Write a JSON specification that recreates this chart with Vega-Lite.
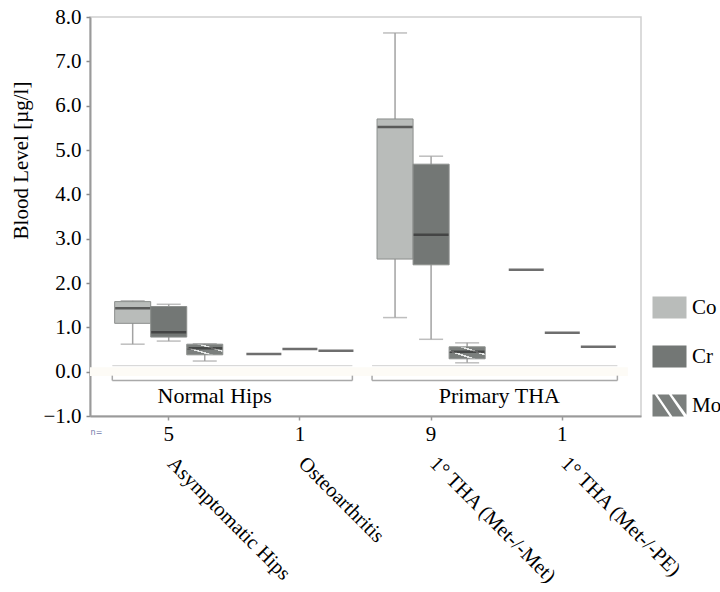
{
  "$schema": "https://vega.github.io/schema/vega-lite/v6.json",
  "width": 551,
  "height": 399,
  "autosize": {"type": "none"},
  "padding": {"left": 90, "top": 17, "right": 79, "bottom": 176},
  "background": "white",
  "config": {
    "font": "Liberation Serif",
    "view": {"stroke": "#cfcfcf", "strokeWidth": 1.5},
    "axis": {"labelFont": "Liberation Serif", "titleFont": "Liberation Serif", "labelColor": "#000000", "titleColor": "#000000", "grid": false},
    "legend": {"labelFont": "Liberation Serif"}
  },
  "datasets": {
    "stats": [
      {"cat": "Asymptomatic Hips", "metal": "Co", "lower": 0.62, "q1": 1.09, "median": 1.43, "q3": 1.58, "upper": 1.6},
      {"cat": "Asymptomatic Hips", "metal": "Cr", "lower": 0.69, "q1": 0.78, "median": 0.89, "q3": 1.47, "upper": 1.52},
      {"cat": "Asymptomatic Hips", "metal": "Mo", "lower": 0.24, "q1": 0.38, "median": 0.53, "q3": 0.62, "upper": 0.63},
      {"cat": "Osteoarthritis", "metal": "Co", "median": 0.4},
      {"cat": "Osteoarthritis", "metal": "Cr", "median": 0.51},
      {"cat": "Osteoarthritis", "metal": "Mo", "median": 0.47},
      {"cat": "1° THA (Met-/-Met)", "metal": "Co", "lower": 1.22, "q1": 2.54, "median": 5.52, "q3": 5.7, "upper": 7.64},
      {"cat": "1° THA (Met-/-Met)", "metal": "Cr", "lower": 0.73, "q1": 2.41, "median": 3.09, "q3": 4.68, "upper": 4.86},
      {"cat": "1° THA (Met-/-Met)", "metal": "Mo", "lower": 0.2, "q1": 0.29, "median": 0.45, "q3": 0.56, "upper": 0.65},
      {"cat": "1° THA (Met-/-PE)", "metal": "Co", "median": 2.3},
      {"cat": "1° THA (Met-/-PE)", "metal": "Cr", "median": 0.88},
      {"cat": "1° THA (Met-/-PE)", "metal": "Mo", "median": 0.56}
    ],
    "groups": [
      {"group": "Normal Hips", "start": 0.17, "end": 2.0, "mid": 0.95},
      {"group": "Primary THA", "start": 2.15, "end": 4.02, "mid": 3.12}
    ],
    "band": [{"b0": 0, "b1": 4.1}]
  },
  "layer": [
    {
      "layer": [
        {
          "data": {"name": "band"},
          "mark": {"type": "rect", "color": "#fdfbf6"},
          "encoding": {
            "x": {"field": "b0", "type": "quantitative", "scale": {"domain": [0, 4.2], "nice": false, "zero": false}, "axis": null},
            "x2": {"field": "b1"},
            "y": {"datum": 0.1, "type": "quantitative", "title": "Blood Level [µg/l]"},
            "y2": {"datum": -0.1}
          }
        },
        {
          "data": {"name": "groups"},
          "mark": {"type": "rule", "color": "#d2d2d2", "strokeWidth": 1},
          "encoding": {
            "x": {"field": "start", "type": "quantitative", "scale": {"domain": [0, 4.2], "nice": false, "zero": false}, "axis": null},
            "x2": {"field": "end"},
            "y": {"datum": 0.135, "type": "quantitative", "title": "Blood Level [µg/l]"}
          }
        },
        {
          "data": {"name": "groups"},
          "mark": {"type": "rule", "color": "#a9a9a9", "strokeWidth": 1.5},
          "encoding": {
            "x": {"field": "start", "type": "quantitative", "scale": {"domain": [0, 4.2], "nice": false, "zero": false}, "axis": null},
            "x2": {"field": "end"},
            "y": {"datum": -0.2, "type": "quantitative", "title": "Blood Level [µg/l]"}
          }
        },
        {
          "data": {"name": "groups"},
          "mark": {"type": "rule", "color": "#a9a9a9", "strokeWidth": 1.5},
          "encoding": {
            "x": {"field": "start", "type": "quantitative", "scale": {"domain": [0, 4.2], "nice": false, "zero": false}, "axis": null},
            "y": {"datum": -0.2, "type": "quantitative", "title": "Blood Level [µg/l]"},
            "y2": {"datum": -0.09}
          }
        },
        {
          "data": {"name": "groups"},
          "mark": {"type": "rule", "color": "#a9a9a9", "strokeWidth": 1.5},
          "encoding": {
            "x": {"field": "end", "type": "quantitative", "scale": {"domain": [0, 4.2], "nice": false, "zero": false}, "axis": null},
            "y": {"datum": -0.2, "type": "quantitative", "title": "Blood Level [µg/l]"},
            "y2": {"datum": -0.09}
          }
        },
        {
          "data": {"name": "groups"},
          "mark": {"type": "text", "font": "Liberation Serif", "fontSize": 22, "color": "#000000", "align": "center", "baseline": "alphabetic"},
          "encoding": {
            "x": {"field": "mid", "type": "quantitative", "scale": {"domain": [0, 4.2], "nice": false, "zero": false}, "axis": null},
            "y": {"datum": -0.71, "type": "quantitative", "title": "Blood Level [µg/l]"},
            "text": {"field": "group"}
          }
        }
      ]
    },
    {
      "data": {"name": "stats"},
      "layer": [
        {
          "mark": {"type": "rule", "color": "#a3a3a3", "strokeWidth": 1.5},
          "encoding": {
            "x": {"field": "cat", "type": "nominal", "sort": null,
              "scale": {"domain": ["Asymptomatic Hips", "Osteoarthritis", "1° THA (Met-/-Met)", "1° THA (Met-/-PE)"], "paddingInner": 0, "paddingOuter": 0.1},
              "axis": {
                "title": "n=", "titleFont": "DejaVu Sans", "titleFontSize": 8, "titleFontWeight": "normal", "titleColor": "#6f78a8",
                "titleX": 6, "titleY": 16, "titleAlign": "center", "titleBaseline": "middle",
                "labelExpr": "datum.value == 'Asymptomatic Hips' ? '5' : datum.value == 'Osteoarthritis' ? '1' : datum.value == '1° THA (Met-/-Met)' ? '9' : '1'",
                "labelAngle": 0, "labelAlign": "center", "labelBaseline": "top", "labelFontSize": 21, "labelPadding": 3,
                "domainColor": "#9a9a9a", "domainWidth": 2, "tickColor": "#9a9a9a", "tickSize": 4, "tickWidth": 1.5
              }
            },
            "xOffset": {"field": "metal", "type": "nominal", "scale": {"domain": ["Co", "Cr", "Mo"], "paddingInner": 0, "paddingOuter": 0.32}},
            "y": {"field": "lower", "type": "quantitative", "title": "Blood Level [µg/l]",
              "scale": {"domain": [-1, 8], "nice": false, "zero": false},
              "axis": {
                "values": [-1, 0, 1, 2, 3, 4, 5, 6, 7, 8], "format": ".1f",
                "labelFontSize": 21, "labelPadding": 5, "titleFontSize": 21, "titleFontWeight": "normal",
                "titleX": -69, "titleY": 143, "titleAngle": -90, "titleAlign": "center", "titleBaseline": "middle",
                "domainColor": "#9a9a9a", "domainWidth": 2, "tickColor": "#8a8a8a", "tickSize": 4, "tickWidth": 1.5
              }
            },
            "y2": {"field": "upper"}
          }
        },
        {
          "mark": {"type": "tick", "color": "#a3a3a3", "size": 24, "thickness": 1.5},
          "encoding": {
            "x": {"field": "cat", "type": "nominal", "sort": null,
              "scale": {"domain": ["Asymptomatic Hips", "Osteoarthritis", "1° THA (Met-/-Met)", "1° THA (Met-/-PE)"], "paddingInner": 0, "paddingOuter": 0.1},
              "axis": {
                "title": null, "orient": "bottom", "offset": 33, "domain": false, "ticks": false,
                "labelAngle": 45, "labelAlign": "left", "labelBaseline": "top", "labelFontSize": 20.5, "labelPadding": 4,
                "labelOffset": 9, "labelLimit": 400, "labelOverlap": false
              }
            },
            "xOffset": {"field": "metal", "type": "nominal"},
            "y": {"field": "lower", "type": "quantitative", "title": "Blood Level [µg/l]"}
          }
        },
        {
          "mark": {"type": "tick", "color": "#a3a3a3", "size": 24, "thickness": 1.5},
          "encoding": {
            "x": {"field": "cat", "type": "nominal", "sort": null, "axis": null},
            "xOffset": {"field": "metal", "type": "nominal"},
            "y": {"field": "upper", "type": "quantitative", "title": "Blood Level [µg/l]"}
          }
        },
        {
          "mark": {"type": "bar", "stroke": "#8c8f8d", "strokeWidth": 1},
          "encoding": {
            "x": {"field": "cat", "type": "nominal", "sort": null, "axis": null},
            "xOffset": {"field": "metal", "type": "nominal"},
            "y": {"field": "q1", "type": "quantitative", "title": "Blood Level [µg/l]"},
            "y2": {"field": "q3"},
            "color": {
              "field": "metal", "type": "nominal",
              "condition": {"test": "datum.metal === 'Mo'", "value": {"gradient": "linear", "x1": 0, "y1": 1, "x2": 1, "y2": 0, "stops": [
                {"offset": 0, "color": "#7b7f7d"}, {"offset": 0.3, "color": "#7b7f7d"}, {"offset": 0.31, "color": "#e6e8e7"}, {"offset": 0.37, "color": "#e6e8e7"}, {"offset": 0.38, "color": "#7b7f7d"},
                {"offset": 0.63, "color": "#7b7f7d"}, {"offset": 0.64, "color": "#e6e8e7"}, {"offset": 0.7, "color": "#e6e8e7"}, {"offset": 0.71, "color": "#7b7f7d"}, {"offset": 1, "color": "#7b7f7d"}]}},
              "scale": {"domain": ["Co", "Cr", "Mo"], "range": ["#b9bcba", "#737775", "#7b7f7d"]},
              "legend": {
                "title": null, "orient": "none", "legendX": 562, "legendY": 273, "padding": 0,
                "symbolSize": 1156, "symbolStrokeColor": "#8c8f8d", "symbolStrokeWidth": 0.6,
                "symbolOpacity": 1, "labelFontSize": 21, "labelOffset": 5, "rowPadding": 19, "labelColor": "#000000"
              }
            }
          }
        },
        {
          "mark": {"type": "tick", "color": "#303030", "size": 35, "thickness": 2.5},
          "encoding": {
            "x": {"field": "cat", "type": "nominal", "sort": null, "axis": null},
            "xOffset": {"field": "metal", "type": "nominal"},
            "y": {"field": "median", "type": "quantitative", "title": "Blood Level [µg/l]"}
          }
        },
        {
          "mark": {"type": "point", "filled": true, "opacity": 0, "size": 1},
          "encoding": {
            "x": {"field": "cat", "type": "nominal", "sort": null, "axis": null},
            "xOffset": {"field": "metal", "type": "nominal"},
            "y": {"field": "median", "type": "quantitative", "title": "Blood Level [µg/l]"},
            "color": {"field": "metal", "type": "nominal"},
            "shape": {
              "field": "metal", "type": "nominal",
              "scale": {"domain": ["Co", "Cr", "Mo"], "range": [
                "M-1,-0.647H1V0.647H-1Z",
                "M-1,-0.647H1V0.647H-1Z",
                "M-1,-0.647H1V0.647H-1Z M-0.87,-0.647L0.01,0.647L0.17,0.647L-0.71,-0.647Z M-0.03,-0.647L0.85,0.647L1,0.647L1,0.55L0.13,-0.647Z"
              ]},
              "legend": {
                "title": null, "orient": "none", "legendX": 562, "legendY": 273, "padding": 0,
                "symbolSize": 1156, "symbolStrokeColor": "#8c8f8d", "symbolStrokeWidth": 0.6,
                "symbolOpacity": 1, "labelFontSize": 21, "labelOffset": 5, "rowPadding": 19, "labelColor": "#000000"
              }
            }
          }
        }
      ],
      "resolve": {"axis": {"x": "independent"}}
    }
  ],
  "resolve": {"scale": {"x": "independent"}}
}
